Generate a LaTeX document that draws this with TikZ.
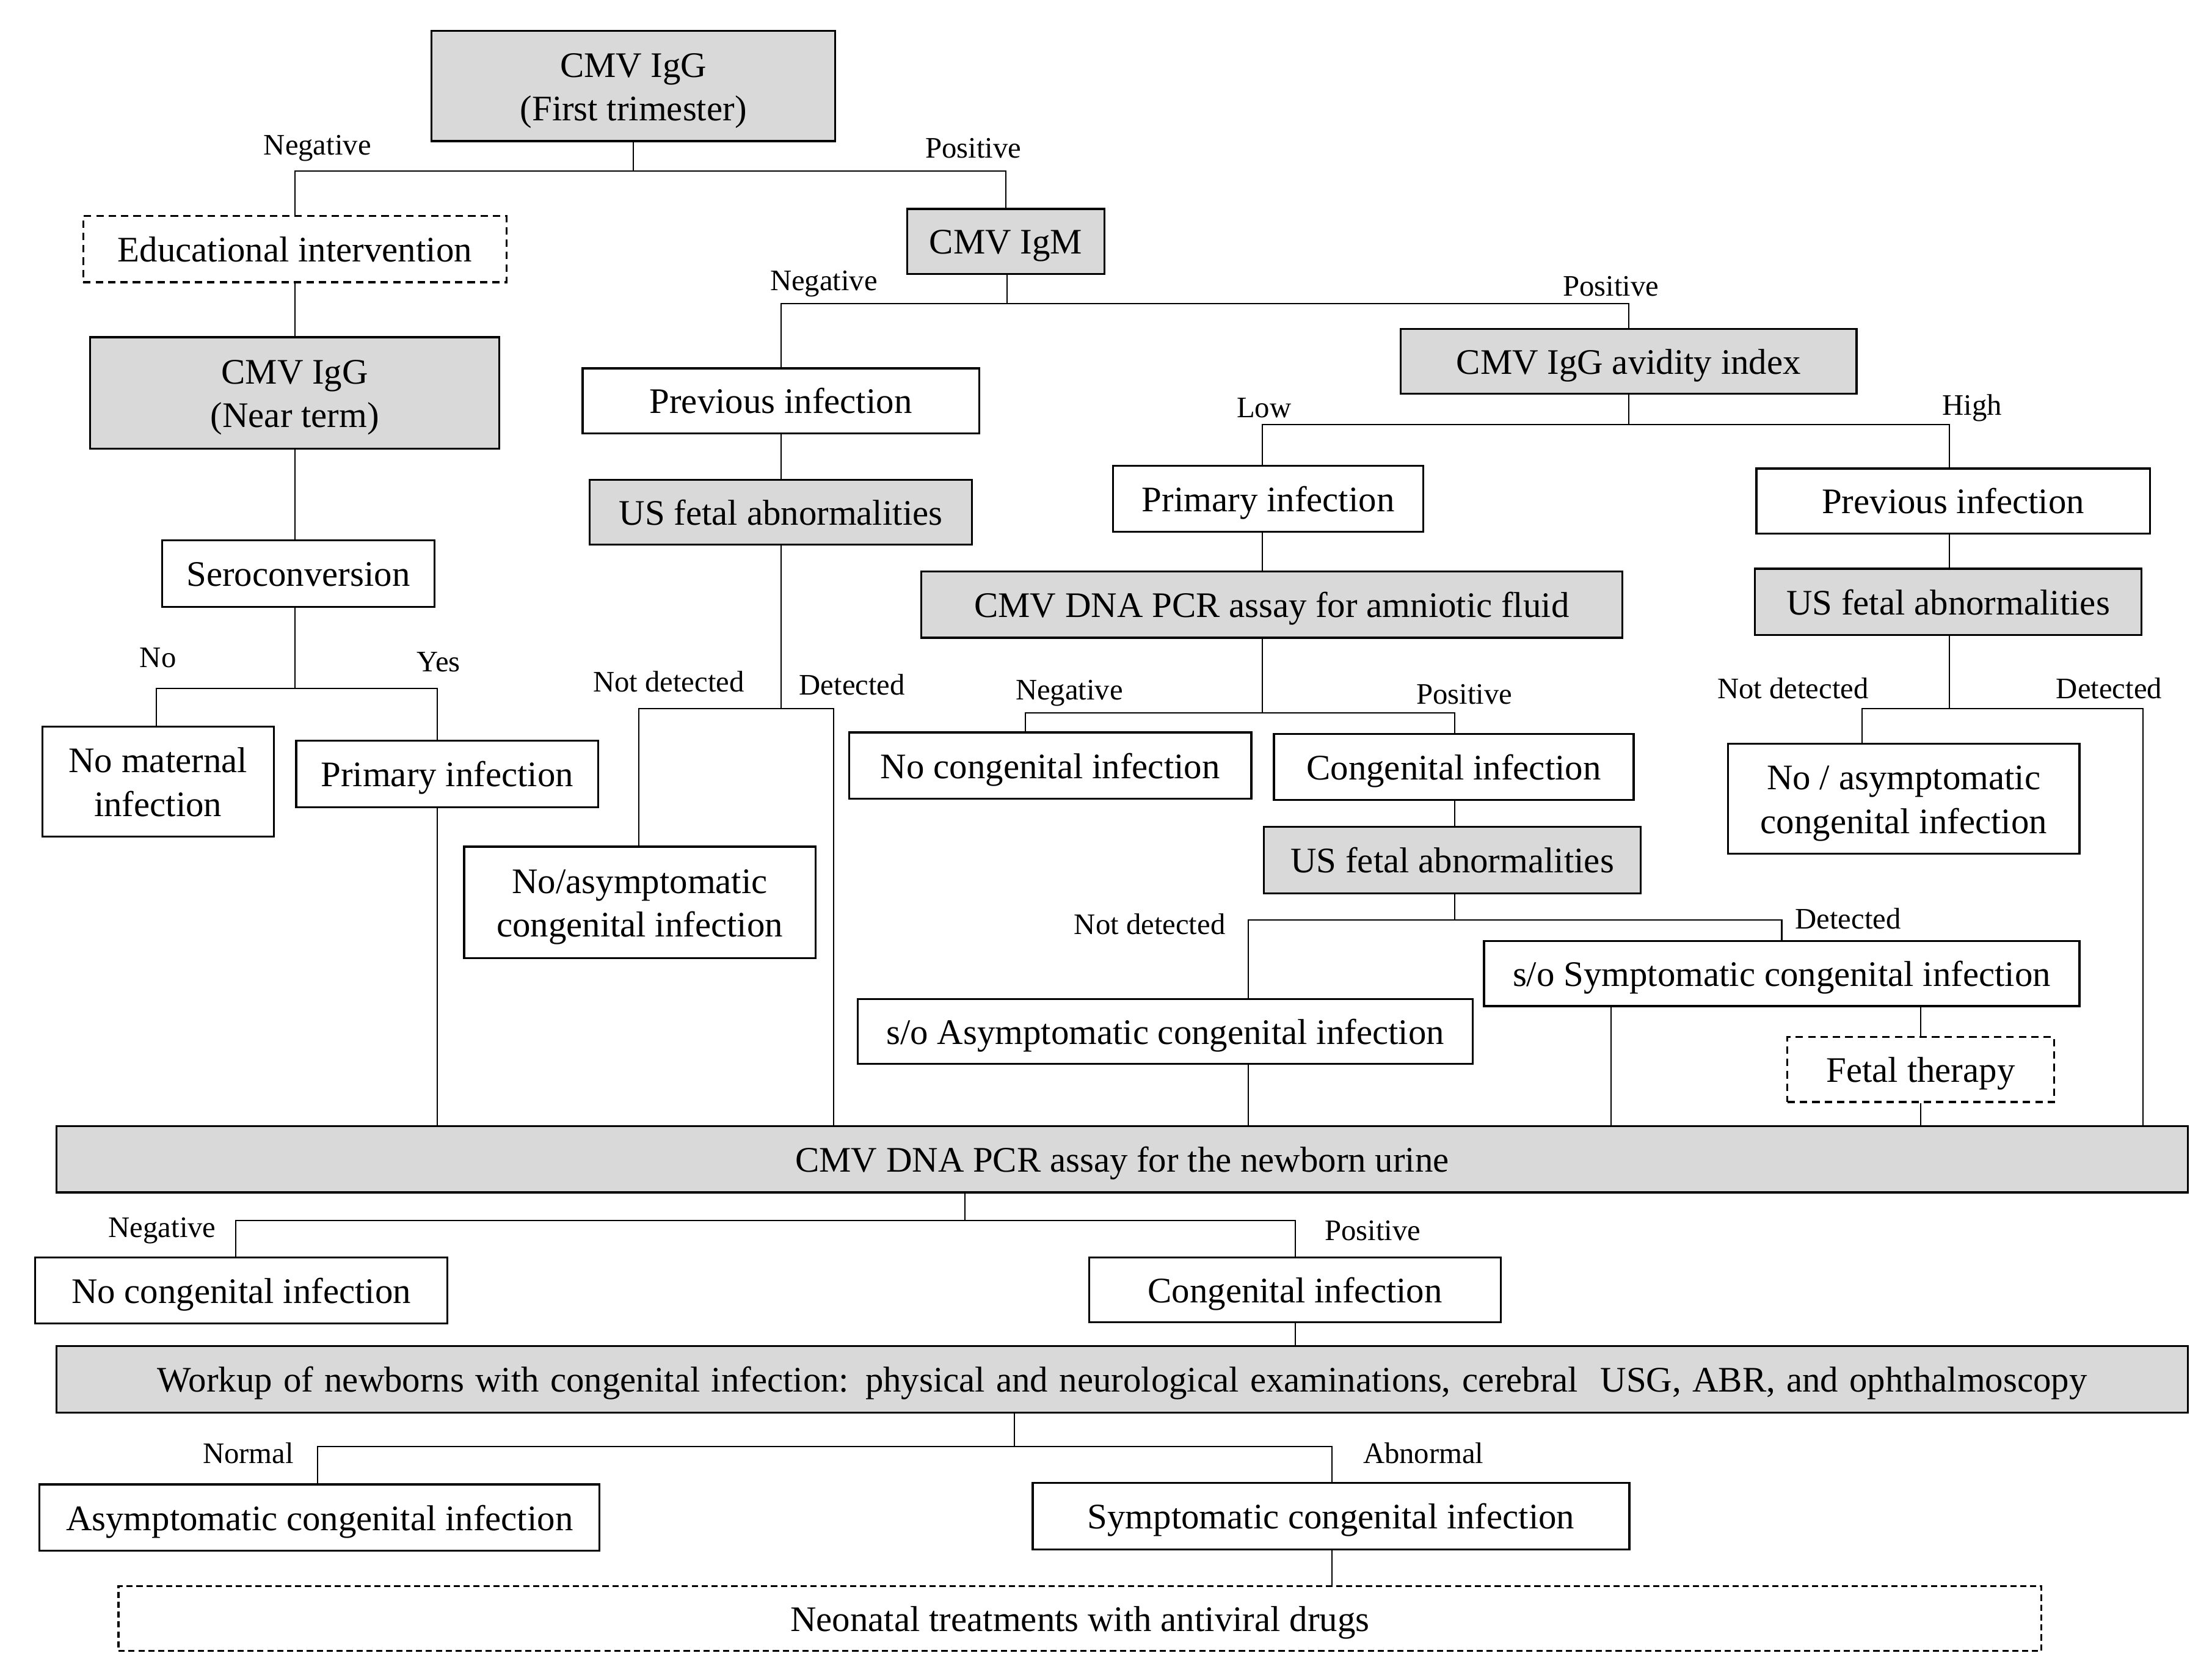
\documentclass[tikz,border=0pt]{standalone}
\usepackage{fontspec}
\setmainfont{Liberation Serif}
\definecolor{boxgray}{RGB}{217,217,217}
\newcommand{\capc}[1]{\raisebox{0pt}[10.3pt][0pt]{#1}}
\tikzset{
  box/.style={draw, line width=0.8pt, inner sep=0pt, align=center, font=\fontsize{14.5}{17.6}\selectfont},
  gbox/.style={box, fill=boxgray},
  dbox/.style={box, dash pattern=on 3pt off 2pt},
  lbl/.style={font=\fontsize{12}{14}\selectfont, inner sep=0pt},
  conn/.style={line width=0.5pt},
  rect/.style n args={4}{minimum width={(#3-#1)*0.02cm}, minimum height={(#4-#2)*0.02cm}, at={({(#1+#3)/2},{(#2+#4)/2})}},
}
\begin{document}
\begin{tikzpicture}[x=0.02cm,y=-0.02cm]
\useasboundingbox[fill=white] (0,0) rectangle (1568,1187);
% nodes
\node[gbox, rect={306}{22}{592}{100}] (ig1) {\capc{CMV IgG}\\\capc{(First trimester)}};
\node[dbox, rect={59}{153}{359}{200}] (edu) {\capc{Educational intervention}};
\node[gbox, rect={64}{239}{354}{318}] (ig2) {\capc{CMV IgG}\\\capc{(Near term)}};
\node[box, rect={115}{383}{308}{430}] (sero) {\capc{Seroconversion}};
\node[box, rect={30}{515}{194}{593}] (nomat) {\capc{No maternal}\\\capc{infection}};
\node[box, rect={210}{525}{424}{572}] (prim1) {\capc{Primary infection}};
\node[gbox, rect={643}{148}{783}{194}] (igm) {\capc{CMV IgM}};
\node[box, rect={413}{261}{694}{307}] (prev1) {\capc{Previous infection}};
\node[gbox, rect={418}{340}{689}{386}] (us1) {\capc{US fetal abnormalities}};
\node[box, rect={329}{600}{578}{679}] (noasym1) {\capc{No/asymptomatic}\\\capc{congenital infection}};
\node[gbox, rect={993}{233}{1316}{279}] (avid) {\capc{CMV IgG avidity index}};
\node[box, rect={789}{330}{1009}{377}] (prim2) {\capc{Primary infection}};
\node[gbox, rect={653}{405}{1150}{452}] (pcraf) {\capc{CMV DNA PCR assay for amniotic\ fluid}};
\node[box, rect={602}{519}{887}{566}] (nocong1) {\capc{No congenital infection}};
\node[box, rect={903}{520}{1158}{567}] (cong1) {\capc{Congenital infection}};
\node[gbox, rect={896}{586}{1163}{633}] (us2) {\capc{US fetal abnormalities}};
\node[box, rect={608}{708}{1044}{754}] (soasym) {\capc{s/o Asymptomatic congenital infection}};
\node[box, rect={1052}{667}{1474}{713}] (sosym) {\capc{s/o Symptomatic congenital infection}};
\node[dbox, rect={1267}{735}{1456}{781}] (fetal) {\capc{Fetal therapy}};
\node[box, rect={1245}{332}{1524}{378}] (prev2) {\capc{Previous infection}};
\node[gbox, rect={1244}{403}{1518}{450}] (us3) {\capc{US fetal abnormalities}};
\node[box, rect={1225}{527}{1474}{605}] (noasym2) {\capc{No / asymptomatic}\\\capc{congenital infection}};
\node[gbox, rect={40}{798}{1551}{845}] (urine) {\capc{CMV DNA PCR assay for the newborn urine}};
\node[box, rect={25}{891}{317}{938}] (nocong2) {\capc{No congenital infection}};
\node[box, rect={772}{891}{1064}{937}] (cong2) {\capc{Congenital infection}};
\node[gbox, rect={40}{954}{1551}{1001}] (work) {\capc{\makebox[27.36cm][s]{Workup of newborns with congenital infection: physical and neurological examinations, cerebral\ \ USG, ABR, and ophthalmoscopy}}};
\node[box, rect={28}{1052}{425}{1099}] (asym) {\capc{Asymptomatic congenital infection}};
\node[box, rect={732}{1051}{1155}{1098}] (sym) {\capc{Symptomatic congenital infection}};
\node[dbox, dash pattern=on 2.5pt off 1.5pt, rect={84}{1124}{1447}{1170}] (neo) {\capc{Neonatal treatments with antiviral drugs}};
% junction coordinates
\coordinate (j0) at (448,121);
\coordinate (j1) at (310,488);
\coordinate (j1b) at (111,488);
\coordinate (jm) at (714,215);
\coordinate (j2) at (591,502);
\coordinate (j2b) at (453,502);
\coordinate (j3) at (895,301);
\coordinate (j4) at (1382,301);
\coordinate (j5) at (727,505);
\coordinate (j6) at (1031,505);
\coordinate (j7) at (885,652);
\coordinate (j8) at (1263,652);
\coordinate (j9) at (1142,713);
\coordinate (j10) at (1320,502);
\coordinate (j11) at (1519,502);
\coordinate (j12) at (684,865);
\coordinate (j13) at (167,865);
\coordinate (j14) at (918,865);
\coordinate (j15) at (719,1025);
\coordinate (j16) at (225,1025);
\coordinate (j17) at (944,1025);
% connectors
\draw[conn] (ig1.south) -- (ig1.south |- j0);
\draw[conn] (edu.north) |- (igm.north |- j0) -- (igm.north);
\draw[conn] (edu.south) -- (ig2.north);
\draw[conn] (ig2.south) -- (ig2.south |- sero.north);
\draw[conn] (ig2.south |- sero.south) -- (ig2.south |- j1);
\draw[conn] (j1b |- nomat.north) -- (j1b) -- (j1) -- (j1 |- prim1.north);
\draw[conn] (j1 |- prim1.south) -- (j1 |- urine.north);
\draw[conn] (jm |- igm.south) -- (jm);
\draw[conn] (prev1.north) |- (avid.north |- jm) -- (avid.north);
\draw[conn] (prev1.south) -- (us1.north);
\draw[conn] (us1.south) -- (us1.south |- j2);
\draw[conn] (j2b |- noasym1.north) -- (j2b) -- (j2) -- (j2 |- urine.north);
\draw[conn] (avid.south) -- (avid.south |- j3);
\draw[conn] (j3 |- prim2.north) -- (j3) -- (j4) -- (j4 |- prev2.north);
\draw[conn] (j3 |- prim2.south) -- (j3 |- pcraf.north);
\draw[conn] (j3 |- pcraf.south) -- (j3 |- j5);
\draw[conn] (j5 |- nocong1.north) -- (j5) -- (j6) -- (j6 |- cong1.north);
\draw[conn] (j6 |- cong1.south) -- (j6 |- us2.north);
\draw[conn] (j6 |- us2.south) -- (j6 |- j7);
\draw[conn] (j7 |- soasym.north) -- (j7) -- (j8) -- (j8 |- sosym.north);
\draw[conn] (j7 |- soasym.south) -- (j7 |- urine.north);
\draw[conn] (j9 |- sosym.south) -- (j9 |- urine.north);
\draw[conn] (fetal.north) -- (fetal.north |- sosym.south);
\draw[conn] (fetal.south) -- (fetal.south |- urine.north);
\draw[conn] (j4 |- prev2.south) -- (j4 |- us3.north);
\draw[conn] (j4 |- us3.south) -- (j4 |- j10);
\draw[conn] (j10 |- noasym2.north) -- (j10) -- (j11) -- (j11 |- urine.north);
\draw[conn] (j12 |- urine.south) -- (j12);
\draw[conn] (j13 |- nocong2.north) -- (j13) -- (j14) -- (j14 |- cong2.north);
\draw[conn] (j14 |- cong2.south) -- (j14 |- work.north);
\draw[conn] (j15 |- work.south) -- (j15);
\draw[conn] (j16 |- asym.north) -- (j16) -- (j17) -- (j17 |- sym.north);
\draw[conn] (j17 |- sym.south) -- (j17 |- neo.north);
% labels
\node[lbl] (l1) at (225,105) {Negative};
\node[lbl] (l2) at (690,105) {Positive};
\node[lbl] (l3) at (584,201) {Negative};
\node[lbl] (l4) at (1142,203) {Positive};
\node[lbl] (l5) at (896,289) {Low};
\node[lbl] (l6) at (1398,289) {High};
\node[lbl] (l7) at (112,466) {No};
\node[lbl] (l8) at (311,469) {Yes};
\node[lbl] (l9) at (474,483) {Not detected};
\node[lbl] (l10) at (604,485) {Detected};
\node[lbl] (l11) at (758,491) {Negative};
\node[lbl] (l12) at (1038,492) {Positive};
\node[lbl] (l13) at (1271,488) {Not detected};
\node[lbl] (l14) at (1495,488) {Detected};
\node[lbl] (l15) at (815,655) {Not detected};
\node[lbl] (l16) at (1310,651) {Detected};
\node[lbl] (l17) at (115,872) {Negative};
\node[lbl] (l18) at (973,872) {Positive};
\node[lbl] (l19) at (176,1030) {Normal};
\node[lbl] (l20) at (1009,1030) {Abnormal};
\end{tikzpicture}
\end{document}
